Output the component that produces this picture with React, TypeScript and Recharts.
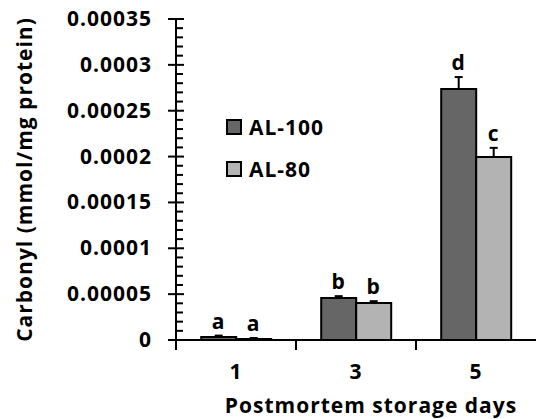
import React from 'react'
import { BarChart, Bar, XAxis, YAxis, Legend, ErrorBar, LabelList, Label } from 'recharts'

// days after slaughter
const days = ['1', '3', '5']
// carbonyl content, mmol/mg protein
const al100 = [0.0000033, 0.0000458, 0.0002737]
const al80 = [0.0000012, 0.0000403, 0.0001995]
const al100Err = [0.0000015, 0.000002, 0.000013]
const al80Err = [0.000001, 0.000002, 0.00001]
const al100Letters = ['a', 'b', 'd']
const al80Letters = ['a', 'b', 'c']
const yMajorTicks = [0, 0.00005, 0.0001, 0.00015, 0.0002, 0.00025, 0.0003, 0.00035]
const yTickLabels = ['0', '0.00005', '0.0001', '0.00015', '0.0002', '0.00025', '0.0003', '0.00035']
const seriesNames = ['AL-100', 'AL-80']
const seriesColors = ['#666666', '#b3b3b3']

const data = days.map((d, i) => ({
  day: d,
  al100: al100[i],
  al80: al80[i],
  al100Err: [0, al100Err[i]],
  al80Err: [0, al80Err[i]],
}))

// Excel style minor unit = major / 5
const yTicks: number[] = []
yMajorTicks.forEach((v, i) => {
  yTicks.push(v)
  if (i < yMajorTicks.length - 1) {
    const step = (yMajorTicks[i + 1] - v) / 5
    for (let k = 1; k < 5; k++) yTicks.push(v + step * k)
  }
})

const W = 536
const H = 419
const LEFT = 176
const TOP = 19
const BOTTOM = 340
const PLOT_H = BOTTOM - TOP
const Y_MAX = 0.00035
const BAND = (W - LEFT) / days.length
const FONT = '"Open Sans", sans-serif'

const txt = {
  fontFamily: FONT,
  fontWeight: 700,
  fontSize: 21,
  letterSpacing: 1,
  fill: '#000',
}

const YTick = (props: any) => {
  const { x, y, index } = props
  const axisX = x + 24
  const major = index % 5 === 0
  if (!major) {
    return <line x1={axisX} x2={axisX + 7} y1={y} y2={y} stroke="#000" strokeWidth={2} />
  }
  return (
    <g>
      <line x1={axisX - 8} x2={axisX + 8} y1={y} y2={y} stroke="#000" strokeWidth={2} />
      <text x={x} y={y} dy={7} textAnchor="end" {...txt}>
        {yTickLabels[index / 5]}
      </text>
    </g>
  )
}

const XTick = (props: any) => {
  const { x, payload } = props
  const left = x - BAND / 2
  return (
    <g>
      <line x1={left} x2={left} y1={BOTTOM} y2={BOTTOM + 10} stroke="#000" strokeWidth={2} />
      <text x={x} y={BOTTOM + 39} textAnchor="middle" {...txt}>
        {payload.value}
      </text>
    </g>
  )
}

const makeLetter = (letters: string[], errs: number[]) => (props: any) => {
  const { x, y, width, index } = props
  const errPx = (errs[index] / Y_MAX) * PLOT_H
  return (
    <text x={x + width / 2} y={y - errPx - 7} textAnchor="middle" {...txt}>
      {letters[index]}
    </text>
  )
}

const renderLegend = () => (
  <div style={{ fontFamily: FONT, fontWeight: 700, fontSize: 21, letterSpacing: 1, lineHeight: '42px' }}>
    {seriesNames.map((n, i) => (
      <div key={n} style={{ display: 'flex', alignItems: 'center' }}>
        <span
          style={{
            display: 'inline-block',
            width: 12,
            height: 12,
            background: seriesColors[i],
            border: '2px solid #000',
            marginRight: 7,
          }}
        />
        <span>{n}</span>
      </div>
    ))}
  </div>
)

export default function App() {
  return (
    <div style={{ width: W, height: H, background: '#fff' }}>
      <style>{'body{margin:0}'}</style>
      <BarChart
        width={W}
        height={H}
        data={data}
        margin={{ top: TOP, right: 0, bottom: 0, left: 0 }}
        barCategoryGap="21%"
        barGap={0}
      >
        <XAxis
          dataKey="day"
          height={H - BOTTOM}
          axisLine={{ stroke: '#000', strokeWidth: 2 }}
          tickLine={false}
          tick={<XTick />}
          interval={0}
        >
          <Label
            content={(p: any) => {
              const vb = p.viewBox
              return (
                <text x={vb.x + vb.width / 2 + 15} y={vb.y + 73} textAnchor="middle" {...txt}>
                  Postmortem storage days
                </text>
              )
            }}
          />
        </XAxis>
        <YAxis
          width={LEFT}
          domain={[0, Y_MAX]}
          ticks={yTicks}
          interval={0}
          tickSize={8}
          tickMargin={16}
          tickLine={false}
          axisLine={{ stroke: '#000', strokeWidth: 2 }}
          tick={<YTick />}
          allowDataOverflow
        >
          <Label
            content={(p: any) => {
              const vb = p.viewBox
              const cx = 25
              const cy = vb.y + vb.height / 2
              return (
                <text x={cx} y={cy} transform={`rotate(-90 ${cx} ${cy})`} dy={7} textAnchor="middle" {...txt}>
                  Carbonyl (mmol/mg protein)
                </text>
              )
            }}
          />
        </YAxis>
        <Legend
          layout="horizontal"
          verticalAlign="middle"
          align="center"
          content={renderLegend}
          wrapperStyle={{ left: 226, top: 106, width: 'auto' }}
        />
        <Bar dataKey="al100" name={seriesNames[0]} fill={seriesColors[0]} stroke="#000" strokeWidth={2} isAnimationActive={false}>
          <ErrorBar dataKey="al100Err" width={4} stroke="#000" strokeWidth={2} direction="y" isAnimationActive={false} />
          <LabelList dataKey="al100" content={makeLetter(al100Letters, al100Err)} />
        </Bar>
        <Bar dataKey="al80" name={seriesNames[1]} fill={seriesColors[1]} stroke="#000" strokeWidth={2} isAnimationActive={false}>
          <ErrorBar dataKey="al80Err" width={4} stroke="#000" strokeWidth={2} direction="y" isAnimationActive={false} />
          <LabelList dataKey="al80" content={makeLetter(al80Letters, al80Err)} />
        </Bar>
      </BarChart>
    </div>
  )
}
